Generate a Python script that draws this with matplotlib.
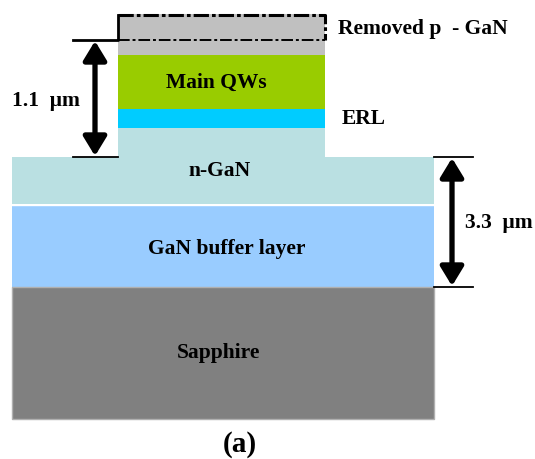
import matplotlib
matplotlib.use("Agg")
import matplotlib.pyplot as plt
from matplotlib.patches import Rectangle

plt.rcParams['font.family'] = ['Liberation Serif', 'DejaVu Serif']

# layers: name, left, right, top, bottom, color (pixel-like units, y down)
camadas = ["p-GaN", "Main QWs", "ERL", "n-GaN mesa", "n-GaN", "GaN buffer layer", "Sapphire"]
esquerda = [118, 118, 118, 118, 12, 12, 12]
direita = [325, 325, 325, 325, 434, 434, 434]
topo = [14, 55, 109, 128, 157, 205, 287]
base = [55, 109, 128, 158, 204, 287, 419]
cores = ["#c0c0c0", "#99cc00", "#00ccff", "#bae0e2", "#bae0e2", "#99ccff", "#808080"]

# labels drawn inside / beside the layers
rotulos = ["Main QWs", "n-GaN", "GaN buffer layer", "Sapphire"]
rotulo_x = [216, 220, 227, 219]
rotulo_y = [83, 171, 249, 353]

fig = plt.figure(figsize=(5.35, 4.59), dpi=100)
ax = fig.add_axes([0, 0, 1, 1])
ax.set_xlim(0, 535)
ax.set_ylim(459, 0)
ax.axis("off")

for i in range(len(camadas)):
    borda = "#b0b0b0" if camadas[i] == "Sapphire" else "none"
    ax.add_patch(Rectangle((esquerda[i], topo[i]), direita[i] - esquerda[i],
                           base[i] - topo[i], facecolor=cores[i], edgecolor=borda, lw=1))

# thin white line between n-GaN and buffer
ax.plot([12, 434], [204.5, 204.5], color="white", lw=1)

# removed p-GaN outline (dash-dot)
estilo = (0, (5, 1, 1.2, 1))
ax.plot([118, 325, 325], [15, 15, 40], color="black", lw=2.2, linestyle=estilo)
ax.plot([118, 325], [40, 40], color="black", lw=1.4, linestyle=(0, (6, 1.5, 1.5, 1.5)))
ax.plot([73, 118, 118], [40, 40, 15], color="black", lw=2.0)
ax.plot([73, 118], [157, 157], color="black", lw=1.3)

# 3.3 um markers
ax.plot([434, 473], [157, 157], color="black", lw=1.3)
ax.plot([434, 473], [287, 287], color="black", lw=1.3)

seta = dict(arrowstyle="<|-|>,head_length=1.15,head_width=0.7", color="black", lw=3.8,
            shrinkA=0, shrinkB=0)
ax.annotate("", xy=(95, 41), xytext=(95, 156), arrowprops=seta)
ax.annotate("", xy=(452, 158), xytext=(452, 286), arrowprops=seta)

fonte = dict(fontsize=15.5, fontweight="bold", color="black")
for txt, x, y in zip(rotulos, rotulo_x, rotulo_y):
    ax.text(x, y, txt, ha="center", va="center", **fonte)

ax.text(338, 29, "Removed p  - GaN", ha="left", va="center", **fonte)
ax.text(342, 119, "ERL", ha="left", va="center", **fonte)
ax.text(12, 101, "1.1  μm", ha="left", va="center", **fonte)
ax.text(465, 223, "3.3  μm", ha="left", va="center", **fonte)
ax.text(240, 445, "(a)", ha="center", va="center", fontsize=21, fontweight="bold")

fig.savefig("out.png", dpi=100)
